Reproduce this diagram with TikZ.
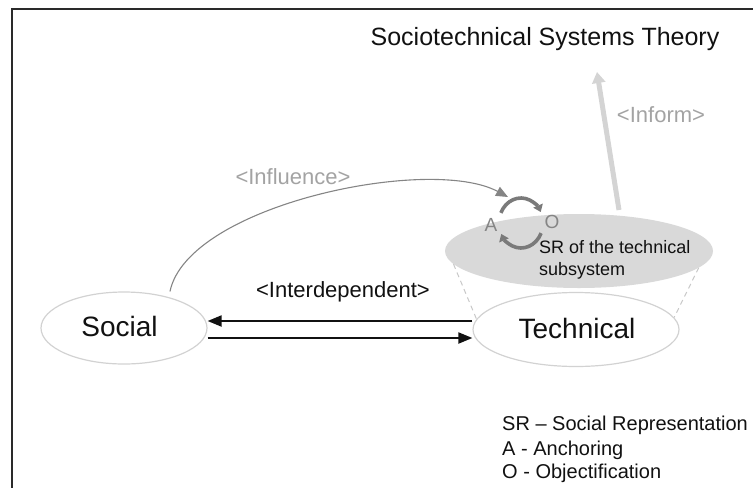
\documentclass[tikz,border=0pt]{standalone}
\usepackage{fontspec}
\setmainfont{Liberation Sans}
\usetikzlibrary{arrows.meta,shapes.geometric}
\definecolor{ink}{HTML}{111111}
\definecolor{ringgray}{HTML}{D2D2D2}
\definecolor{srgray}{HTML}{D9D9D9}
\definecolor{labelgray}{HTML}{A3A3A3}
\definecolor{curvegray}{HTML}{858585}
\definecolor{cyclegray}{HTML}{7A7A7A}
\definecolor{informgray}{HTML}{D4D4D4}
\definecolor{dashgray}{HTML}{C8C8C8}
\definecolor{framegray}{HTML}{2A2A2A}
\newcommand\fsz[1]{\fontsize{#1}{#1}\selectfont}
\begin{document}
\begin{tikzpicture}[x=1pt,y=-1pt,
  txt/.style={inner sep=0,anchor=base,text=ink},
  txtleft/.style={inner sep=0,anchor=base west,text=ink},
  ring/.style={ellipse,draw=ringgray,line width=1.2pt,inner sep=0},
  linkarrow/.style={draw=ink,line width=2pt,-{Triangle[length=14pt,width=11pt]}},
  influencearrow/.style={draw=curvegray,line width=1.1pt,-{Triangle[length=12pt,width=10pt]}},
  cyclearrow/.style={draw=cyclegray,line width=3.6pt,-{Triangle[length=7pt,width=10pt]}},
  informarrow/.style={draw=informgray,line width=5pt,-{Triangle[length=11pt,width=13pt]}},
  guide/.style={draw=dashgray,line width=1pt,dash pattern=on 5pt off 4pt}]
\useasboundingbox (0,0) rectangle (753,488);

% frame
\draw[framegray,line width=2.2pt] (753,9) -- (12,9) -- (12,488);

% title
\node[txt,font=\fsz{25}] (title) at (545,45) {Sociotechnical Systems Theory};

% social representation of the technical subsystem
\node[ellipse,fill=srgray,inner sep=0,minimum width=268pt,minimum height=74pt] (sr) at (579,251) {};
\node[txtleft,font=\fsz{18}] (srline1) at (539,253) {SR of the technical};
\node[txtleft,font=\fsz{18}] (srline2) at (539,275) {subsystem};

% the two subsystems
\node[ring,minimum width=166pt,minimum height=72pt] (social) at (124,328) {};
\node[txt,font=\fsz{28}] (socialtext) at (119.5,336) {Social};
\node[ring,minimum width=206pt,minimum height=74pt] (tech) at (576,329.5) {};
\node[txt,font=\fsz{28}] (techtext) at (577,338) {Technical};

% projection lines from the SR ellipse down to the technical subsystem
\draw[guide] (sr.186) -- (tech.174);
\draw[guide] (sr.-8) -- (tech.7);

% interdependence arrows
\coordinate (toprow) at ([yshift=8.5pt]tech.west);
\coordinate (bottomrow) at ([yshift=-10pt]social.east);
\draw[linkarrow] (toprow) -- (toprow -| social.east);
\draw[linkarrow] (bottomrow) -- (bottomrow -| tech.west);
\node[txt,font=\fsz{22}] (interlabel) at (343,297) {<Interdependent>};

% anchoring / objectification cycle
\coordinate (cyc) at (521,223);
\draw[cyclearrow] ([shift={(204:22 and 25)}]cyc) arc[start angle=204,end angle=334,x radius=22,y radius=25];
\draw[cyclearrow] ([shift={(24:22 and 25)}]cyc) arc[start angle=24,end angle=154,x radius=22,y radius=25];
\node[txt,text=curvegray,font=\fsz{19}] (alabel) at (491,231) {A};
\node[txt,text=curvegray,font=\fsz{19}] (olabel) at (552,228) {O};

% influence of the social subsystem on the cycle
\coordinate (inflstart) at ([xshift=46pt]social.north);
\coordinate (inflend) at ([shift={(-13,-26)}]cyc);
\draw[influencearrow] (inflstart) .. controls (188,205) and (430,155) .. (inflend);
\node[txt,text=labelgray,font=\fsz{22}] (infllabel) at (293,184) {<Influence>};

% inform arrow towards the theory
\coordinate (informbase) at (619,210);
\coordinate (informtip) at (597,72);
\draw[informarrow] (informbase) -- (informtip);
\node[txt,text=labelgray,font=\fsz{22}] (informlabel) at (661,122) {<Inform>};

% legend
\node[txtleft,font=\fsz{20}] (legend1) at (502,430) {SR – Social Representation};
\node[txtleft,font=\fsz{20}] (legend2) at (502,455) {A - Anchoring};
\node[txtleft,font=\fsz{20}] (legend3) at (502,478) {O - Objectification};
\end{tikzpicture}
\end{document}
